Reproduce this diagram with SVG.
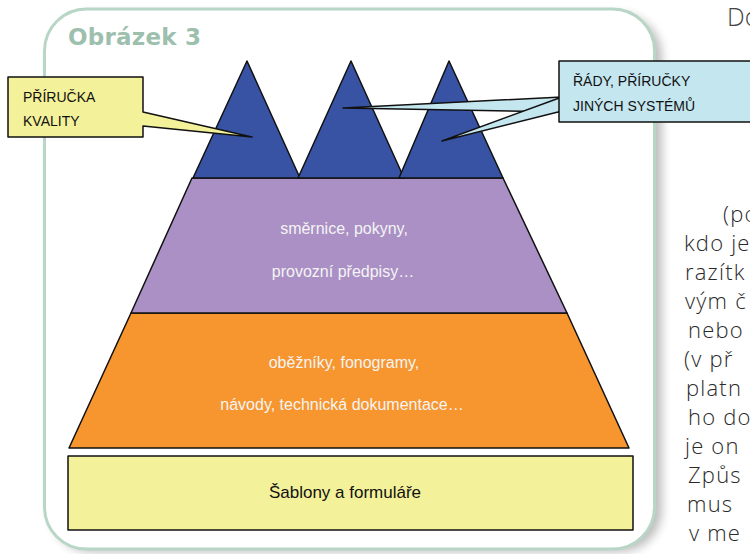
<svg xmlns="http://www.w3.org/2000/svg" width="750" height="554" viewBox="0 0 750 554">
<defs>
<filter id="sh" x="-10%" y="-10%" width="130%" height="130%"><feGaussianBlur stdDeviation="5"/></filter>
<style>
.blk{stroke:#111;stroke-width:1.5;stroke-linejoin:round}
.tri{fill:#3953a4}
.lbl{font-family:"Liberation Sans",Arial,sans-serif;font-size:14px;fill:#111}
.big{font-size:17px;text-anchor:middle}
.wt{font-family:"Liberation Sans",Arial,sans-serif;font-size:16px;fill:#f4f4f4;text-anchor:middle}
.body{font-family:"Open Sans","DejaVu Sans",sans-serif;font-weight:300;font-size:22px;fill:#2a2a2a;letter-spacing:1.2px}
</style>
</defs>
<rect x="50" y="14" width="612" height="538" rx="42" fill="#888" opacity="0.55" filter="url(#sh)"/>
<rect id="frame" x="44.5" y="9" width="610" height="540" rx="42" fill="#fff" stroke="#b8d6c6" stroke-width="3"/>
<text x="68" y="45" font-family="DejaVu Sans,sans-serif" font-weight="bold" font-size="23" fill="#9dbfad" textLength="133">Obrázek 3</text>
<text x="727" y="26" font-family="Open Sans,sans-serif" font-weight="300" font-size="25" fill="#444">Do</text>
<g id="base"><rect class="blk" x="68" y="456" width="565" height="74" fill="#f3f29a"/><text class="lbl big" x="345" y="498">Šablony a formuláře</text></g>
<g id="level2"><polygon class="blk" points="131,313 567,313 629,448 69,448" fill="#f7962f"/><text class="wt" x="344" y="368">oběžníky, fonogramy,</text><text class="wt" x="342" y="410">návody, technická dokumentace…</text></g>
<g id="level1"><polygon class="blk" points="192,178 503,178 567,313 131,313" fill="#aa90c4"/><text class="wt" x="344" y="234">směrnice, pokyny,</text><text class="wt" x="343" y="277">provozní předpisy…</text></g>
<g id="peaks"><polygon class="blk tri" points="247,61 300,178 193,178"/><polygon class="blk tri" points="351,61 404,178 298,178"/><polygon class="blk tri" points="449,61 503,178 399,178"/></g>
<g id="callout-left"><polygon class="blk" points="8,77 143,77 143,112 252,137 143,126 143,137 8,137" fill="#f3f29a"/><text class="lbl" x="23" y="102">PŘÍRUČKA</text><text class="lbl" x="23" y="126">KVALITY</text></g>
<g id="callout-right"><polygon class="blk" points="562,97 343,108 562,112" fill="#c4e6ef"/><polygon class="blk" points="562,97 442,141 562,111" fill="#c4e6ef"/><rect class="blk" x="559" y="61" width="200" height="61" fill="#c4e6ef"/><text class="lbl" x="573" y="86">ŘÁDY, PŘÍRUČKY</text><text class="lbl" x="573" y="111">JINÝCH SYSTÉMŮ</text></g>
<g id="bodytext" class="body">
<text x="723" y="222">(po</text>
<text x="684" y="251">kdo je</text>
<text x="685" y="280">razítk</text>
<text x="685" y="309">vým č</text>
<text x="688" y="338">nebo</text>
<text x="684" y="367">(v př</text>
<text x="686" y="396">platn</text>
<text x="688" y="425">ho do</text>
<text x="685" y="454">je on</text>
<text x="688" y="483">Způs</text>
<text x="687" y="512">mus</text>
<text x="689" y="541">v me</text>
</g>
</svg>
